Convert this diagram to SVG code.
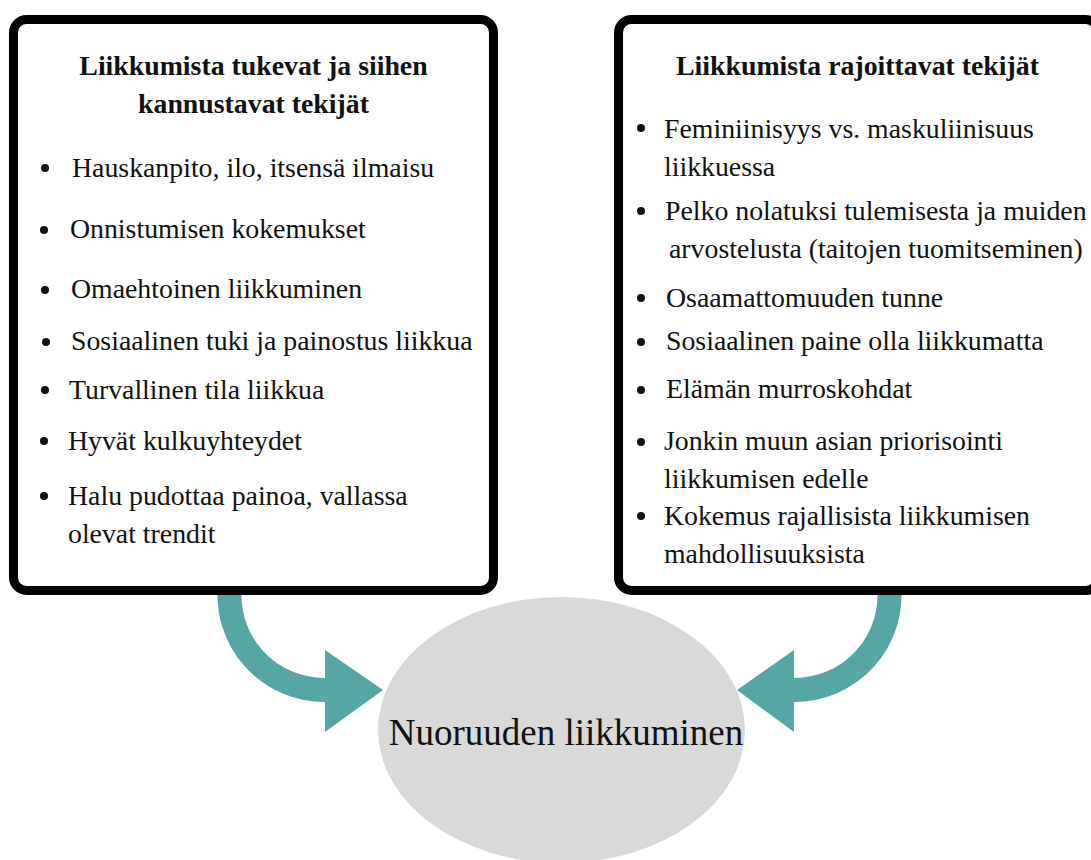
<svg xmlns="http://www.w3.org/2000/svg" width="1091" height="860" viewBox="0 0 1091 860">
<style>
.box{fill:#fff;stroke:#000;stroke-width:9}
.t{font-family:"Liberation Serif","Times New Roman",serif;font-size:27.8px;fill:#111}
.h{font-family:"Liberation Serif","Times New Roman",serif;font-size:27.8px;font-weight:bold;fill:#111;text-anchor:middle}
.b{fill:#111}
.tube{fill:none;stroke:#57a6a6;stroke-width:24}
.head{fill:#57a6a6}
</style>
<rect width="1091" height="860" fill="#fff"/>
<g id="connectors">
<path class="tube" d="M230,585 A95,95 0 0 0 325,690 L330,690"/>
<polygon class="head" points="325,650 383,690 325,732"/>
<path class="tube" d="M889,585 A95,95 0 0 1 794,690 L789,690"/>
<polygon class="head" points="794,650 737,690 794,732"/>
</g>
<g id="left-box">
<rect class="box" x="13.5" y="19.5" width="480" height="571" rx="13"/>
<text class="h" x="253.5" y="75">Liikkumista tukevat ja siihen</text>
<text class="h" x="253.5" y="113">kannustavat tekijät</text>
<circle class="b" cx="45" cy="168" r="4"/><text class="t" x="72" y="177">Hauskanpito, ilo, itsensä ilmaisu</text>
<circle class="b" cx="44" cy="230" r="4"/><text class="t" x="70" y="238">Onnistumisen kokemukset</text>
<circle class="b" cx="45" cy="290" r="4"/><text class="t" x="71" y="298">Omaehtoinen liikkuminen</text>
<circle class="b" cx="46" cy="342" r="4"/><text class="t" x="71" y="350">Sosiaalinen tuki ja painostus liikkua</text>
<circle class="b" cx="45" cy="390" r="4"/><text class="t" x="69" y="399">Turvallinen tila liikkua</text>
<circle class="b" cx="44" cy="441" r="4"/><text class="t" x="68" y="450">Hyvät kulkuyhteydet</text>
<circle class="b" cx="44" cy="496" r="4"/><text class="t" x="68" y="505">Halu pudottaa painoa, vallassa</text>
<text class="t" x="68" y="543">olevat trendit</text>
</g>
<g id="right-box">
<rect class="box" x="618.5" y="19.5" width="480" height="571" rx="13"/>
<text class="h" x="857.5" y="75">Liikkumista rajoittavat tekijät</text>
<circle class="b" cx="641" cy="128" r="4"/><text class="t" x="664" y="138">Feminiinisyys vs. maskuliinisuus</text>
<text class="t" x="664" y="176">liikkuessa</text>
<circle class="b" cx="641" cy="211" r="4"/><text class="t" x="665" y="220">Pelko nolatuksi tulemisesta ja muiden</text>
<text class="t" x="669" y="258">arvostelusta (taitojen tuomitseminen)</text>
<circle class="b" cx="641" cy="298" r="4"/><text class="t" x="666" y="307">Osaamattomuuden tunne</text>
<circle class="b" cx="641" cy="342" r="4"/><text class="t" x="666" y="350">Sosiaalinen paine olla liikkumatta</text>
<circle class="b" cx="641" cy="390" r="4"/><text class="t" x="666" y="398">Elämän murroskohdat</text>
<circle class="b" cx="641" cy="442" r="4"/><text class="t" x="664" y="450">Jonkin muun asian priorisointi</text>
<text class="t" x="664" y="488">liikkumisen edelle</text>
<circle class="b" cx="641" cy="516" r="4"/><text class="t" x="664" y="525">Kokemus rajallisista liikkumisen</text>
<text class="t" x="664" y="563">mahdollisuuksista</text>
</g>
<g id="center">
<ellipse cx="561.5" cy="730" rx="183.5" ry="133" fill="#d9d9d9"/>
<text x="566" y="745" text-anchor="middle" style="font-family:'Liberation Serif','Times New Roman',serif;font-size:37px;fill:#111">Nuoruuden liikkuminen</text>
</g>
</svg>
